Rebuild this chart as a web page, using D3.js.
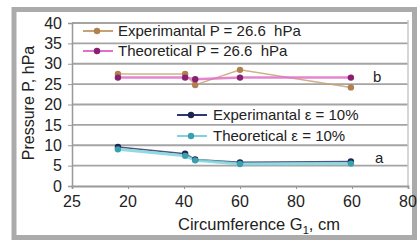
<!DOCTYPE html>
<html>
<head>
<meta charset="utf-8">
<script src="https://cdn.jsdelivr.net/npm/d3@7"></script>
<style>
body { margin: 0; background: #fff; }
text { font-family: "Liberation Sans", Arial, sans-serif; fill: #222; white-space: pre; }
</style>
</head>
<body>
<div id="chart"></div>
<script>
const W = 417, H = 241;

// x positions in axis-tick units, tick labels as printed
const xTickLabels = ["25", "20", "40", "60", "80", "60", "80"];
const xPos = [0.82, 2.02, 2.2, 3.0, 4.98];
const yTicks = [0, 5, 10, 15, 20, 25, 30, 35, 40];

const expP = [27.5, 27.5, 24.8, 28.5, 24.2];
const theoP = [26.6, 26.6, 26.2, 26.6, 26.6];
const expE = [9.6, 7.9, 6.5, 5.8, 6.0];
const theoE = [9.0, 7.4, 6.3, 5.4, 5.5];

const seriesNames = ["Experimantal P = 26.6  hPa", "Theoretical P = 26.6  hPa",
                     "Experimantal \u03b5 = 10%", "Theoretical \u03b5 = 10%"];

const svg = d3.select("#chart").append("svg")
    .attr("width", W)
    .attr("height", H);

// outer frame
svg.append("rect")
    .attr("x", 14).attr("y", 9.5)
    .attr("width", 400.5).attr("height", 228)
    .attr("fill", "#fff")
    .attr("stroke", "#ababab")
    .attr("stroke-width", 5);

const x = d3.scaleLinear().domain([0, 6]).range([72, 408]);
const y = d3.scaleLinear().domain([0, 40]).range([186, 23]);

// gridlines
svg.append("g").selectAll("line")
    .data(yTicks.filter(d => d > 0))
    .join("line")
    .attr("x1", x(0)).attr("x2", x(6))
    .attr("y1", d => y(d)).attr("y2", d => y(d))
    .attr("stroke", "#a4a4a4")
    .attr("stroke-width", 1.8);

// right border of plot
svg.append("line")
    .attr("x1", x(6)).attr("x2", x(6))
    .attr("y1", y(40) - 3).attr("y2", y(0))
    .attr("stroke", "#c8c8c8").attr("stroke-width", 1.5);

// axes
const yAxis = svg.append("g")
    .attr("transform", "translate(" + x(0) + ",0)")
    .call(d3.axisLeft(y).tickValues(yTicks).tickSize(4).tickPadding(6));
yAxis.select(".domain").attr("stroke", "#999").attr("stroke-width", 1.5);
yAxis.selectAll(".tick line").attr("stroke", "#999");
yAxis.selectAll("text").attr("font-size", 16).attr("font-family", null);

const xIdx = d3.range(xTickLabels.length);
const xAxis = svg.append("g")
    .attr("transform", "translate(0," + y(0) + ")")
    .call(d3.axisBottom(x).tickValues(xIdx).tickSize(3).tickFormat(""));
xAxis.select(".domain").attr("stroke", "#999").attr("stroke-width", 1.8);
xAxis.selectAll(".tick line").attr("stroke", "#999");

// x tick labels as printed in the source
svg.append("g").selectAll("text")
    .data(xIdx)
    .join("text")
    .attr("x", d => x(d))
    .attr("y", y(0) + 21)
    .attr("text-anchor", "middle")
    .attr("font-size", 16)
    .text(d => xTickLabels[d]);

// axis titles
svg.append("text")
    .attr("transform", "translate(34,103) rotate(-90)")
    .attr("text-anchor", "middle")
    .attr("font-size", 16)
    .text("Pressure P, hPa");

const xt = svg.append("text")
    .attr("x", 259).attr("y", 230)
    .attr("text-anchor", "middle")
    .attr("font-size", 16.5);
xt.append("tspan").text("Circumference G");
xt.append("tspan").attr("font-size", 11).attr("dy", 4).text("1");
xt.append("tspan").attr("dy", -4).text(", cm");

// series
const series = [
    { vals: expP, line: "#c9a274", mark: "#b08050", lw: 1.5 },
    { vals: theoP, line: "#e070c8", mark: "#8a1f70", lw: 2.5 },
    { vals: expE, line: "#2a3a6a", mark: "#1c2550", lw: 1.5 },
    { vals: theoE, line: "#7fd3dc", mark: "#3aa0b0", lw: 3 }
];

const line = d3.line()
    .x((d, i) => x(xPos[i]))
    .y(d => y(d));

series.forEach(s => {
    svg.append("path")
        .attr("d", line(s.vals))
        .attr("fill", "none")
        .attr("stroke", s.line)
        .attr("stroke-width", s.lw)
        .attr("opacity", 0.85);
});
series.forEach(s => {
    svg.append("g").selectAll("circle")
        .data(s.vals)
        .join("circle")
        .attr("cx", (d, i) => x(xPos[i]))
        .attr("cy", d => y(d))
        .attr("r", 3.2)
        .attr("fill", s.mark);
});

// legends
const legendY = [31, 51, 115, 136];
const legendX = [83, 83, 177, 177];
const textX = [118, 118, 213, 213];
series.forEach((s, i) => {
    const g = svg.append("g").attr("transform", "translate(" + legendX[i] + "," + legendY[i] + ")");
    g.append("line")
        .attr("x1", 0).attr("x2", 30)
        .attr("stroke", s.line).attr("stroke-width", 2);
    g.append("circle").attr("cx", 14).attr("r", 3.2).attr("fill", s.mark);
    g.append("text")
        .attr("x", textX[i] - legendX[i]).attr("dy", "0.35em")
        .attr("font-size", 15)
        .text(seriesNames[i]);
});

// curve labels
svg.append("text").attr("x", 373).attr("y", 82).attr("font-size", 15).text("b");
svg.append("text").attr("x", 375).attr("y", 163).attr("font-size", 15).text("a");
</script>
</body>
</html>
